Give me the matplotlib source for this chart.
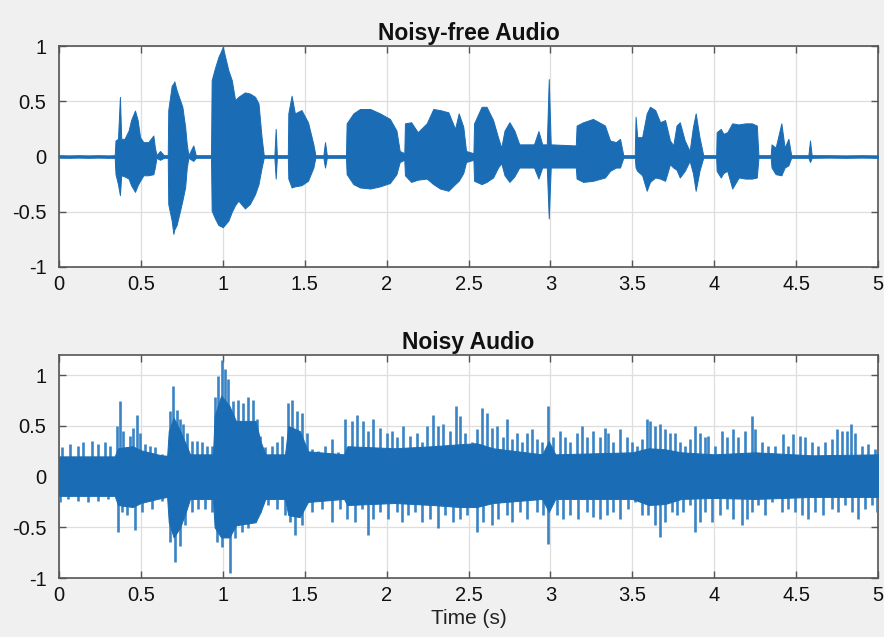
import matplotlib
matplotlib.use("Agg")
import matplotlib.pyplot as plt

# ---------------- data ----------------
# Noise-free audio: envelope breakpoints (time in s, upper value, lower value)
clean_t = [0.00, 0.06, 0.12, 0.18, 0.24, 0.30, 0.340, 0.345, 0.36, 0.372,
           0.38, 0.40, 0.425, 0.44, 0.464, 0.48, 0.495, 0.515, 0.545, 0.576,
           0.585, 0.595, 0.617, 0.64, 0.664, 0.667, 0.688, 0.698, 0.704, 0.718,
           0.739, 0.753, 0.77, 0.78, 0.79, 0.82, 0.835, 0.928, 0.932, 0.952,
           0.973, 1.000, 1.034, 1.055, 1.075, 1.095, 1.135, 1.165, 1.197, 1.218,
           1.237, 1.25, 1.315, 1.323, 1.33, 1.397, 1.400, 1.42, 1.44, 1.48,
           1.52, 1.553, 1.565, 1.614, 1.624, 1.635, 1.752, 1.756, 1.797, 1.837,
           1.90, 1.96, 2.02, 2.06, 2.08, 2.108, 2.112, 2.15, 2.19, 2.245,
           2.285, 2.326, 2.377, 2.418, 2.44, 2.468, 2.485, 2.53, 2.534, 2.58,
           2.61, 2.65, 2.68, 2.70, 2.72, 2.75, 2.78, 2.81, 2.90, 2.927,
           2.95, 2.978, 2.99, 3.002, 3.155, 3.16, 3.20, 3.26, 3.333, 3.364,
           3.40, 3.425, 3.445, 3.515, 3.52, 3.53, 3.56, 3.588, 3.608, 3.64,
           3.67, 3.70, 3.73, 3.75, 3.77, 3.79, 3.82, 3.85, 3.87, 3.887,
           3.91, 3.933, 4.012, 4.015, 4.04, 4.056, 4.08, 4.11, 4.15, 4.19,
           4.23, 4.26, 4.27, 4.345, 4.35, 4.375, 4.41, 4.43, 4.453, 4.47,
           4.575, 4.585, 4.595, 4.70, 4.80, 4.90, 5.00]
clean_up = [0.012, 0.010, 0.012, 0.010, 0.012, 0.010, 0.012, 0.145, 0.16, 0.54,
            0.16, 0.16, 0.235, 0.33, 0.416, 0.33, 0.175, 0.13, 0.13, 0.19,
            0.085, 0.012, 0.05, 0.012, 0.012, 0.42, 0.64, 0.66, 0.68, 0.60,
            0.51, 0.45, 0.27, 0.11, 0.012, 0.10, 0.012, 0.012, 0.69, 0.80,
            0.90, 0.99, 0.78, 0.69, 0.51, 0.54, 0.58, 0.57, 0.54, 0.48,
            0.17, 0.012, 0.012, 0.25, 0.012, 0.012, 0.39, 0.55, 0.39, 0.42,
            0.31, 0.11, 0.012, 0.012, 0.13, 0.012, 0.012, 0.30, 0.39, 0.43,
            0.43, 0.39, 0.34, 0.235, 0.05, 0.03, 0.30, 0.31, 0.22, 0.30,
            0.43, 0.42, 0.40, 0.25, 0.39, 0.27, 0.05, 0.03, 0.30, 0.45,
            0.45, 0.33, 0.175, 0.08, 0.235, 0.31, 0.235, 0.11, 0.11, 0.23,
            0.11, 0.11, 0.70, 0.11, 0.10, 0.28, 0.31, 0.34, 0.28, 0.145,
            0.13, 0.16, 0.012, 0.012, 0.36, 0.175, 0.175, 0.39, 0.45, 0.42,
            0.31, 0.33, 0.145, 0.10, 0.28, 0.31, 0.145, 0.05, 0.265, 0.39,
            0.175, 0.012, 0.012, 0.22, 0.25, 0.205, 0.22, 0.30, 0.29, 0.30,
            0.30, 0.28, 0.012, 0.012, 0.11, 0.08, 0.30, 0.08, 0.16, 0.012,
            0.012, 0.145, 0.012, 0.012, 0.010, 0.012, 0.010]
clean_lo = [-0.010, -0.012, -0.010, -0.012, -0.010, -0.012, -0.012, -0.16, -0.25, -0.35,
            -0.17, -0.18, -0.20, -0.26, -0.32, -0.26, -0.22, -0.17, -0.17, -0.16,
            -0.10, -0.012, -0.03, -0.012, -0.012, -0.43, -0.58, -0.70, -0.66, -0.62,
            -0.49, -0.40, -0.28, -0.10, -0.012, -0.04, -0.012, -0.012, -0.49, -0.56,
            -0.62, -0.64, -0.58, -0.50, -0.44, -0.40, -0.47, -0.43, -0.34, -0.25,
            -0.10, -0.012, -0.012, -0.20, -0.012, -0.012, -0.20, -0.28, -0.27, -0.26,
            -0.22, -0.10, -0.012, -0.012, -0.10, -0.012, -0.012, -0.16, -0.25, -0.28,
            -0.29, -0.27, -0.24, -0.16, -0.05, -0.03, -0.17, -0.23, -0.21, -0.20,
            -0.25, -0.29, -0.31, -0.25, -0.22, -0.15, -0.05, -0.03, -0.22, -0.25,
            -0.23, -0.19, -0.10, -0.06, -0.17, -0.23, -0.18, -0.10, -0.10, -0.20,
            -0.10, -0.10, -0.56, -0.10, -0.10, -0.20, -0.23, -0.22, -0.19, -0.13,
            -0.10, -0.10, -0.012, -0.012, -0.10, -0.13, -0.17, -0.31, -0.23, -0.19,
            -0.20, -0.22, -0.07, -0.10, -0.12, -0.19, -0.13, -0.04, -0.15, -0.31,
            -0.13, -0.012, -0.012, -0.13, -0.19, -0.15, -0.13, -0.29, -0.19, -0.20,
            -0.20, -0.19, -0.012, -0.012, -0.10, -0.16, -0.17, -0.10, -0.08, -0.012,
            -0.012, -0.05, -0.012, -0.010, -0.012, -0.010, -0.012]

# Noisy audio: dense core envelope breakpoints
noisy_t = [0.00, 0.34, 0.36, 0.45, 0.50, 0.60, 0.66, 0.67, 0.70, 0.74,
           0.78, 0.80, 0.94, 0.95, 0.99, 1.04, 1.08, 1.20, 1.23, 1.26,
           1.38, 1.40, 1.47, 1.52, 1.74, 1.76, 2.05, 2.28, 2.45, 2.55,
           2.65, 2.95, 2.99, 3.03, 3.50, 3.60, 3.70, 3.80, 4.00, 4.25,
           4.60, 5.00]
noisy_up = [0.20, 0.20, 0.28, 0.30, 0.26, 0.22, 0.20, 0.45, 0.58, 0.45,
            0.30, 0.22, 0.22, 0.60, 0.80, 0.70, 0.55, 0.55, 0.35, 0.22,
            0.22, 0.50, 0.45, 0.25, 0.22, 0.30, 0.28, 0.30, 0.32, 0.33,
            0.28, 0.22, 0.35, 0.22, 0.24, 0.28, 0.27, 0.24, 0.22, 0.24,
            0.21, 0.22]
noisy_lo = [-0.19, -0.19, -0.28, -0.30, -0.26, -0.22, -0.20, -0.45, -0.60, -0.50,
            -0.32, -0.22, -0.22, -0.50, -0.60, -0.60, -0.48, -0.45, -0.35, -0.22,
            -0.22, -0.38, -0.40, -0.25, -0.22, -0.28, -0.26, -0.28, -0.30, -0.30,
            -0.26, -0.22, -0.35, -0.22, -0.22, -0.28, -0.27, -0.22, -0.21, -0.22,
            -0.20, -0.20]

# Noisy audio: individual peaks reaching beyond the core (time, value)
peak_up_t = [0.016, 0.067, 0.118, 0.149, 0.199, 0.240, 0.281, 0.311, 0.352, 0.372,
             0.393, 0.433, 0.454, 0.474, 0.495, 0.525, 0.556, 0.586, 0.627, 0.647,
             0.678, 0.698, 0.718, 0.739, 0.759, 0.779, 0.810, 0.840, 0.871, 0.902,
             0.932, 0.952, 0.973, 0.993, 1.013, 1.034, 1.064, 1.095, 1.125, 1.156,
             1.186, 1.207, 1.227, 1.258, 1.298, 1.329, 1.359, 1.400, 1.425, 1.451,
             1.481, 1.512, 1.543, 1.583, 1.624, 1.665, 1.705, 1.746, 1.787, 1.817,
             1.858, 1.888, 1.919, 1.960, 2.000, 2.031, 2.061, 2.102, 2.143, 2.184,
             2.214, 2.245, 2.285, 2.316, 2.346, 2.387, 2.424, 2.448, 2.479, 2.520,
             2.550, 2.580, 2.611, 2.641, 2.672, 2.713, 2.733, 2.763, 2.794, 2.824,
             2.855, 2.886, 2.916, 2.947, 2.987, 3.018, 3.059, 3.089, 3.120, 3.161,
             3.191, 3.221, 3.262, 3.303, 3.333, 3.354, 3.384, 3.425, 3.466, 3.496,
             3.527, 3.557, 3.588, 3.608, 3.639, 3.669, 3.700, 3.730, 3.761, 3.791,
             3.822, 3.852, 3.883, 3.913, 3.944, 3.964, 4.005, 4.045, 4.076, 4.117,
             4.147, 4.188, 4.229, 4.249, 4.290, 4.331, 4.371, 4.422, 4.453, 4.483,
             4.524, 4.554, 4.595, 4.636, 4.677, 4.717, 4.747, 4.778, 4.809, 4.835,
             4.860, 4.900, 4.941, 4.981]
peak_up_v = [0.29, 0.32, 0.30, 0.34, 0.35, 0.32, 0.34, 0.30, 0.50, 0.745,
             0.45, 0.40, 0.48, 0.61, 0.43, 0.32, 0.30, 0.29, 0.22, 0.21,
             0.65, 0.89, 0.66, 0.57, 0.52, 0.43, 0.35, 0.35, 0.34, 0.30,
             0.30, 0.79, 0.99, 1.15, 1.06, 0.96, 0.745, 0.76, 0.73, 0.79,
             0.76, 0.57, 0.40, 0.29, 0.30, 0.34, 0.40, 0.73, 0.76, 0.65,
             0.63, 0.43, 0.27, 0.25, 0.30, 0.37, 0.24, 0.565, 0.55, 0.61,
             0.55, 0.45, 0.565, 0.48, 0.43, 0.45, 0.39, 0.50, 0.40, 0.43,
             0.34, 0.50, 0.61, 0.50, 0.52, 0.45, 0.70, 0.60, 0.43, 0.34,
             0.47, 0.68, 0.63, 0.48, 0.50, 0.39, 0.565, 0.37, 0.43, 0.34,
             0.43, 0.47, 0.37, 0.34, 0.70, 0.39, 0.45, 0.39, 0.34, 0.43,
             0.50, 0.39, 0.45, 0.39, 0.48, 0.43, 0.34, 0.47, 0.39, 0.34,
             0.30, 0.37, 0.565, 0.55, 0.50, 0.52, 0.47, 0.43, 0.43, 0.34,
             0.30, 0.37, 0.50, 0.43, 0.39, 0.40, 0.30, 0.45, 0.39, 0.47,
             0.39, 0.45, 0.60, 0.47, 0.34, 0.30, 0.30, 0.42, 0.30, 0.42,
             0.40, 0.39, 0.34, 0.30, 0.34, 0.37, 0.47, 0.45, 0.45, 0.52,
             0.43, 0.30, 0.32, 0.27]
peak_dn_t = [0.006, 0.057, 0.118, 0.179, 0.240, 0.301, 0.362, 0.383, 0.413, 0.464,
             0.505, 0.566, 0.627, 0.678, 0.708, 0.739, 0.769, 0.810, 0.851, 0.891,
             0.932, 0.963, 0.993, 1.045, 1.074, 1.115, 1.156, 1.197, 1.227, 1.278,
             1.329, 1.380, 1.410, 1.441, 1.481, 1.543, 1.604, 1.665, 1.716, 1.756,
             1.807, 1.848, 1.888, 1.919, 1.960, 2.010, 2.061, 2.092, 2.132, 2.173,
             2.214, 2.265, 2.316, 2.357, 2.407, 2.448, 2.489, 2.550, 2.591, 2.641,
             2.682, 2.733, 2.763, 2.814, 2.855, 2.916, 2.957, 2.987, 3.038, 3.079,
             3.120, 3.171, 3.221, 3.262, 3.303, 3.344, 3.384, 3.425, 3.476, 3.516,
             3.557, 3.598, 3.639, 3.669, 3.700, 3.740, 3.771, 3.812, 3.852, 3.883,
             3.913, 3.944, 3.985, 4.036, 4.076, 4.117, 4.168, 4.198, 4.229, 4.270,
             4.310, 4.351, 4.412, 4.453, 4.493, 4.534, 4.575, 4.616, 4.667, 4.717,
             4.758, 4.798, 4.839, 4.880, 4.920, 4.961, 4.992]
peak_dn_v = [-0.25, -0.22, -0.24, -0.25, -0.24, -0.22, -0.55, -0.35, -0.38, -0.53,
             -0.35, -0.32, -0.24, -0.64, -0.84, -0.68, -0.48, -0.35, -0.32, -0.32,
             -0.35, -0.64, -0.69, -0.95, -0.61, -0.55, -0.51, -0.45, -0.35, -0.28,
             -0.32, -0.38, -0.45, -0.58, -0.48, -0.35, -0.32, -0.45, -0.32, -0.42,
             -0.45, -0.32, -0.58, -0.42, -0.35, -0.42, -0.35, -0.45, -0.38, -0.35,
             -0.45, -0.42, -0.51, -0.38, -0.45, -0.42, -0.38, -0.55, -0.45, -0.48,
             -0.42, -0.38, -0.45, -0.35, -0.42, -0.35, -0.38, -0.66, -0.38, -0.42,
             -0.38, -0.42, -0.35, -0.40, -0.42, -0.38, -0.35, -0.42, -0.32, -0.25,
             -0.38, -0.38, -0.48, -0.60, -0.45, -0.35, -0.38, -0.35, -0.28, -0.55,
             -0.45, -0.35, -0.45, -0.38, -0.32, -0.42, -0.48, -0.42, -0.35, -0.28,
             -0.38, -0.25, -0.35, -0.32, -0.35, -0.38, -0.42, -0.35, -0.38, -0.32,
             -0.35, -0.28, -0.35, -0.42, -0.32, -0.28, -0.35]

x_ticks = [0, 0.5, 1, 1.5, 2, 2.5, 3, 3.5, 4, 4.5, 5]
x_labels = ["0", "0.5", "1", "1.5", "2", "2.5", "3", "3.5", "4", "4.5", "5"]
y_ticks = [-1, -0.5, 0, 0.5, 1]
y_labels = ["-1", "-0.5", "0", "0.5", "1"]
titles = ["Noisy-free Audio", "Noisy Audio"]
x_label = "Time (s)"

assert len(clean_t) == len(clean_up) == len(clean_lo)
assert len(noisy_t) == len(noisy_up) == len(noisy_lo)
assert len(peak_up_t) == len(peak_up_v)
assert len(peak_dn_t) == len(peak_dn_v)

# ---------------- drawing ----------------
plt.rcParams['font.family'] = ['Liberation Sans', 'DejaVu Sans']
BLUE = '#1a6db5'
LIGHT = '#3a84c5'

fig = plt.figure(figsize=(8.84, 6.37), dpi=100, facecolor='#f0f0f0')
W, H = 884, 637
ax1 = fig.add_axes([59 / W, 1 - 267 / H, (878 - 59) / W, (267 - 46) / H])
ax2 = fig.add_axes([59 / W, 1 - 578 / H, (878 - 59) / W, (578 - 355) / H])

ax1.fill_between(clean_t, clean_lo, clean_up, color=BLUE, linewidth=0.7,
                 edgecolor=BLUE, zorder=3)

ax2.vlines(peak_up_t, 0, peak_up_v, color=LIGHT, linewidth=1.9, zorder=2.9)
ax2.vlines(peak_dn_t, 0, peak_dn_v, color=LIGHT, linewidth=1.9, zorder=2.9)
ax2.fill_between(noisy_t, noisy_lo, noisy_up, color=BLUE, linewidth=0.7,
                 edgecolor=BLUE, zorder=3)

for ax, title, ylim in [(ax1, titles[0], (-1, 1)), (ax2, titles[1], (-1, 1.2))]:
    ax.set_facecolor('white')
    ax.set_xlim(0, 5)
    ax.set_ylim(*ylim)
    ax.set_xticks(x_ticks)
    ax.set_xticklabels(x_labels)
    ax.set_yticks(y_ticks)
    ax.set_yticklabels(y_labels)
    ax.grid(True, color='#dedede', linewidth=0.9, zorder=0)
    ax.set_axisbelow(True)
    ax.tick_params(direction='in', top=True, right=True, length=5, width=1,
                   color='#555555', labelsize=14.5, labelcolor='#111111')
    ax.tick_params(axis='y', pad=9)
    ax.tick_params(axis='x', pad=6)
    for s in ax.spines.values():
        s.set_color('#555555')
        s.set_linewidth(1.2)
    ax.set_title(title, fontsize=16.5, fontweight='bold', pad=4, color='#111111')

ax2.set_xlabel(x_label, fontsize=15, color='#222222', labelpad=3)

fig.savefig("out.png", dpi=100, facecolor=fig.get_facecolor())
